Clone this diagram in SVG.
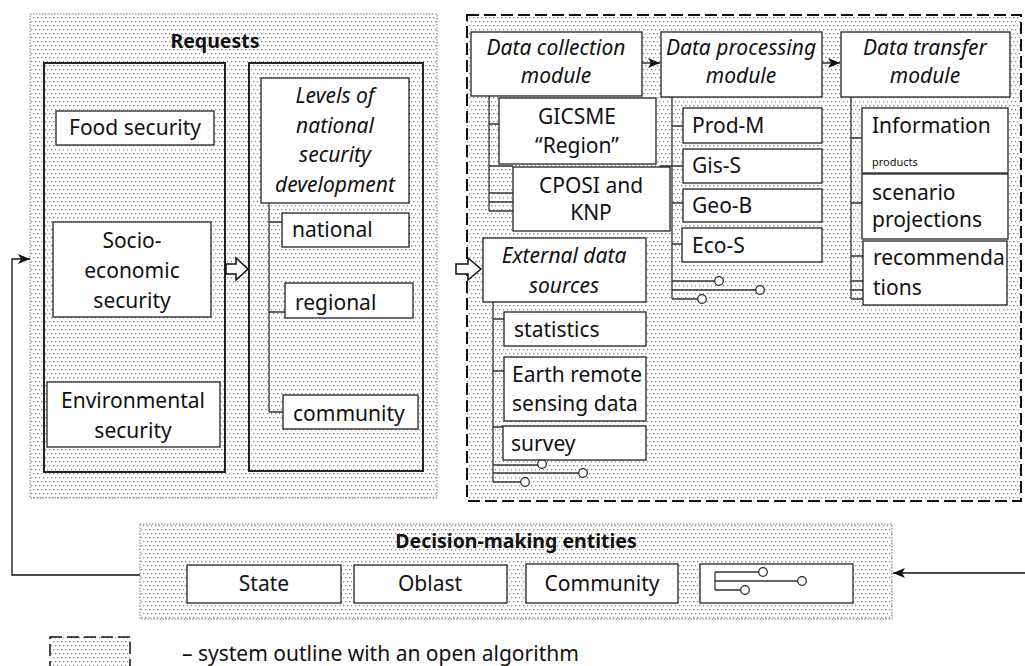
<svg xmlns="http://www.w3.org/2000/svg" width="1025" height="666" viewBox="0 0 1025 666">
<style>
text{font-family:"Noto Sans","Open Sans",sans-serif;font-size:21px;fill:#111}
.it{font-style:italic}
.b{font-weight:bold;font-size:19.5px}
.c{text-anchor:middle}
.box{fill:#fff;stroke:#222;stroke-width:1.3}
.thick{fill:url(#dots);stroke:#222;stroke-width:2}
.area{fill:url(#dots);stroke:#777;stroke-width:1;stroke-dasharray:1.5 1.5}
.dash{fill:url(#dots);stroke:#111;stroke-width:2;stroke-dasharray:12 5}
.ln{fill:none;stroke:#333;stroke-width:1.3}
.pin{fill:#fff;stroke:#222;stroke-width:1.2}
.hol{fill:#fff;stroke:#111;stroke-width:1.5}
.arr{fill:none;stroke:#111;stroke-width:1.3}
</style>
<defs>
<pattern id="dots" width="8" height="8" patternUnits="userSpaceOnUse">
<rect width="8" height="8" fill="#fff"/>
<rect x="1" y="1" width="1.3" height="1.3" fill="#8a8a8a"/>
<rect x="5" y="1" width="1.3" height="1.3" fill="#8a8a8a"/>
<rect x="3" y="5" width="1.3" height="1.3" fill="#8a8a8a"/>
<rect x="7" y="5" width="1.3" height="1.3" fill="#8a8a8a"/>
</pattern>
<marker id="ah" viewBox="0 0 12 10" refX="12" refY="5" markerWidth="12" markerHeight="10" orient="auto" markerUnits="userSpaceOnUse">
<path d="M0,0 L12,5 L0,10 L3,5 z" fill="#111"/>
</marker>
</defs>
<rect width="1025" height="666" fill="#fff"/>

<!-- containers -->
<g id="requests">
<rect class="area" x="30" y="14" width="407" height="484"/>
<text class="b c" x="215" y="48">Requests</text>
<rect class="thick" x="44" y="63" width="181" height="409"/>
<rect class="thick" x="249" y="63" width="174" height="408"/>
</g>
<g id="system">
<rect class="dash" x="467" y="15" width="554" height="486"/>
</g>
<g id="decision">
<rect class="area" x="140" y="524" width="752" height="95"/>
<text class="b c" x="516" y="548">Decision-making entities</text>
</g>

<!-- connectors -->
<g id="connectors">
<polyline class="arr" points="140,575 12,575 12,259 30,259" marker-end="url(#ah)"/>
<line class="arr" x1="1025" y1="573" x2="893" y2="573" marker-end="url(#ah)"/>
<line class="arr" x1="642" y1="63" x2="660" y2="63" marker-end="url(#ah)"/>
<line class="arr" x1="822" y1="63" x2="840" y2="63" marker-end="url(#ah)"/>
<polygon class="hol" points="226,264 236,264 236,258 248,269 236,280 236,274 226,274"/>
<polygon class="hol" points="456,264 468,264 468,258 481,269 468,280 468,274 456,274"/>
<!-- levels tree -->
<path class="ln" d="M269,203 V412 M269,222 H282 M269,312 H285 M269,412 H283"/>
<!-- collection tree -->
<path class="ln" d="M489,90 V211 M489,124 H499 M489,166 H513 M489,193 H533 M489,202 H573 M489,211 H515"/>
<!-- processing tree -->
<path class="ln" d="M672,90 V299 M672,126 H683 M660,166 H683 M672,203 H683 M672,244 H682 M672,281 H715 M672,290 H756 M672,299 H698"/>
<!-- transfer tree -->
<path class="ln" d="M851,90 V299 M851,138 H862 M851,203 H862 M851,256 H863 M851,281 H863 M851,290 H863 M851,299 H863"/>
<!-- external tree -->
<path class="ln" d="M493,295 V482 M493,319 H504 M493,371 H504 M493,427 H503 M493,465 H538 M493,473 H579 M493,482 H521"/>
<circle class="pin" cx="537" cy="193" r="4.3"/>
<circle class="pin" cx="577" cy="202" r="4.3"/>
<circle class="pin" cx="519" cy="211" r="4.3"/>
<circle class="pin" cx="719" cy="281" r="4.3"/>
<circle class="pin" cx="760" cy="290" r="4.3"/>
<circle class="pin" cx="702" cy="299" r="4.3"/>
<circle class="pin" cx="542" cy="464" r="4.3"/>
<circle class="pin" cx="583" cy="473" r="4.3"/>
<circle class="pin" cx="525" cy="482" r="4.3"/>
</g>

<!-- request nodes -->
<g id="food"><rect class="box" x="56" y="111" width="158" height="34"/><text class="c" x="135" y="135">Food security</text></g>
<g id="socio"><rect class="box" x="53" y="222" width="158" height="95"/><text class="c" x="132" y="248">Socio-</text><text class="c" x="132" y="278">economic</text><text class="c" x="132" y="308">security</text></g>
<g id="env"><rect class="box" x="47" y="382" width="173" height="65"/><text class="c" x="133" y="408">Environmental</text><text class="c" x="133" y="438">security</text></g>
<g id="levels"><rect class="box" x="261" y="78" width="148" height="125"/><text class="c it" x="335" y="103">Levels of</text><text class="c it" x="335" y="133">national</text><text class="c it" x="335" y="162">security</text><text class="c it" x="335" y="192">development</text></g>
<g id="national"><rect class="box" x="282" y="213" width="127" height="34"/><text x="292" y="237">national</text></g>
<g id="regional"><rect class="box" x="285" y="283" width="128" height="35"/><text x="295" y="310">regional</text></g>
<g id="community-level"><rect class="box" x="283" y="395" width="135" height="34"/><text x="293" y="421">community</text></g>

<!-- system nodes -->
<g id="collection"><rect class="box" x="471" y="32" width="171" height="64"/><text class="c it" x="556" y="55">Data collection</text><text class="c it" x="556" y="83">module</text></g>
<g id="processing"><rect class="box" x="661" y="32" width="161" height="65"/><text class="c it" x="741" y="55">Data processing</text><text class="c it" x="741" y="83">module</text></g>
<g id="transfer"><rect class="box" x="841" y="32" width="169" height="65"/><text class="c it" x="925" y="55">Data transfer</text><text class="c it" x="925" y="83">module</text></g>
<g id="gicsme"><rect class="box" x="499" y="98" width="157" height="66"/><text class="c" x="577" y="124">GICSME</text><text class="c" x="577" y="153">“Region”</text></g>
<g id="cposi"><rect class="box" x="513" y="167" width="157" height="64"/><text class="c" x="591" y="193">CPOSI and</text><text class="c" x="591" y="220">KNP</text></g>
<g id="prodm"><rect class="box" x="683" y="108" width="139" height="35"/><text x="692" y="133">Prod-M</text></g>
<g id="giss"><rect class="box" x="683" y="149" width="139" height="34"/><text x="692" y="173">Gis-S</text></g>
<g id="geob"><rect class="box" x="683" y="189" width="139" height="33"/><text x="692" y="213">Geo-B</text></g>
<g id="ecos"><rect class="box" x="682" y="228" width="140" height="34"/><text x="692" y="253">Eco-S</text></g>
<g id="info"><rect class="box" x="862" y="108" width="146" height="65"/><text x="872" y="133">Information</text><text x="872" y="166" style="font-size:11px">products</text></g>
<g id="scenario"><rect class="box" x="862" y="174" width="146" height="65"/><text x="872" y="200">scenario</text><text x="872" y="227">projections</text></g>
<g id="recommend"><rect class="box" x="863" y="241" width="144" height="64"/><text x="873" y="265">recommenda</text><text x="873" y="295">tions</text></g>
<g id="external"><rect class="box" x="483" y="238" width="163" height="64"/><text class="c it" x="564" y="263">External data</text><text class="c it" x="564" y="293">sources</text></g>
<g id="statistics"><rect class="box" x="504" y="312" width="142" height="34"/><text x="514" y="337">statistics</text></g>
<g id="earth"><rect class="box" x="504" y="357" width="142" height="64"/><text x="512" y="382">Earth remote</text><text x="512" y="411">sensing data</text></g>
<g id="survey"><rect class="box" x="503" y="426" width="143" height="34"/><text x="511" y="451">survey</text></g>

<!-- decision nodes -->
<g id="state"><rect class="box" x="187" y="565" width="154" height="38"/><text class="c" x="264" y="591">State</text></g>
<g id="oblast"><rect class="box" x="354" y="565" width="153" height="38"/><text class="c" x="430" y="591">Oblast</text></g>
<g id="community"><rect class="box" x="526" y="564" width="152" height="39"/><text class="c" x="602" y="591">Community</text></g>
<g id="other"><rect class="box" x="700" y="564" width="153" height="39"/>
<path class="ln" d="M715,572 V590 M715,572 H759 M715,581 H798 M715,590 H741"/>
<circle class="pin" cx="763" cy="572" r="4.3"/><circle class="pin" cx="802" cy="581" r="4.3"/><circle class="pin" cx="745" cy="590" r="4.3"/></g>

<!-- legend -->
<g id="legend">
<rect class="dash" x="50" y="637" width="80" height="40" style="stroke-width:1.5"/>
<text x="182" y="661">– system outline with an open algorithm</text>
</g>
</svg>
